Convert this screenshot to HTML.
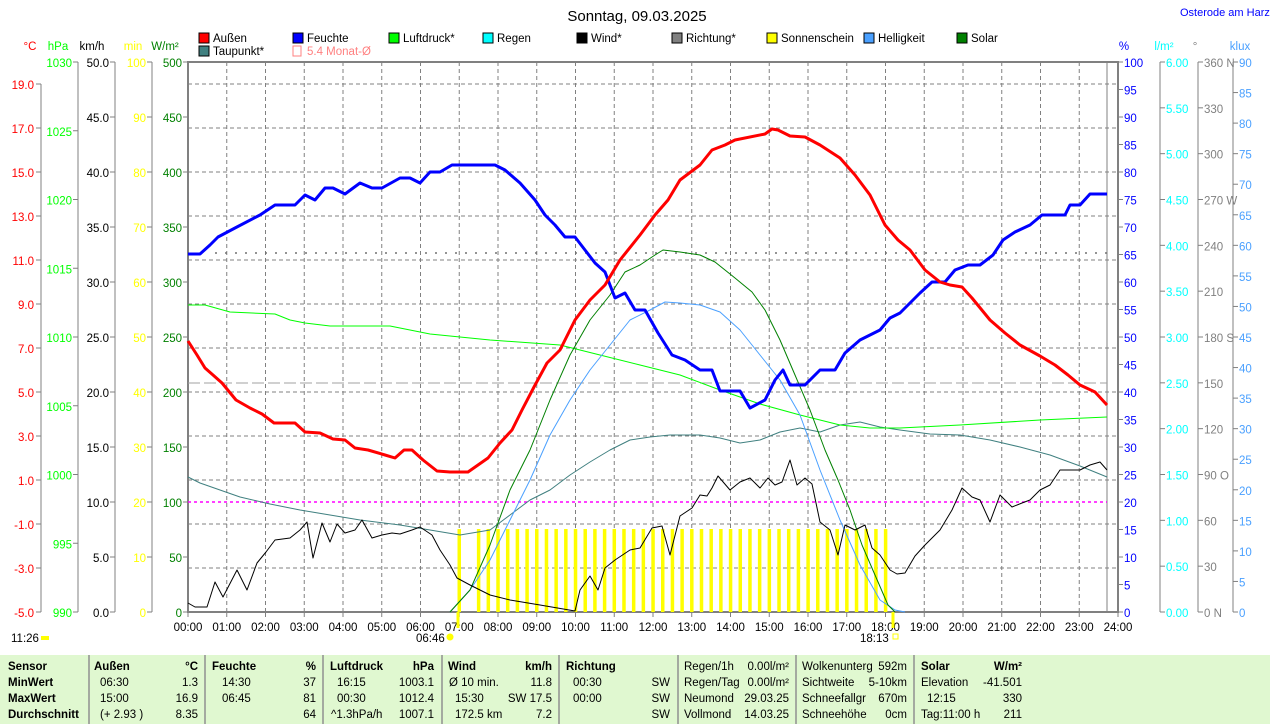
<!DOCTYPE html>
<html><head><meta charset="utf-8"><style>
body{margin:0;background:#fff;width:1274px;height:724px;overflow:hidden;font-family:"Liberation Sans",sans-serif}
svg{position:absolute;left:0;top:0}
text{font-family:"Liberation Sans",sans-serif;font-size:11.5px}
</style></head><body>
<svg id="s" width="1274" height="724" xmlns="http://www.w3.org/2000/svg"></svg>
<script>
const s=document.getElementById('s');let h='';
const X0=188,X1=1118,Y0=62,Y1=612,HW=38.75;
function t(x,y,str,c,a,extra){h+=`<text x="${x}" y="${y}" fill="${c||'#000'}" text-anchor="${a||'start'}" ${extra||''}>${str}</text>`;}
function l(x1,y1,x2,y2,c,w,d){h+=`<line x1="${x1}" y1="${y1}" x2="${x2}" y2="${y2}" stroke="${c}" stroke-width="${w||1}" ${d?`stroke-dasharray="${d}"`:''}/>`;}
function pl(p,c,w){h+=`<polyline fill="none" stroke="${c}" stroke-width="${w}" stroke-linejoin="round" points="${p}"/>`;}
t(637,21,'Sonntag, 09.03.2025','#000','middle','style="font-size:15px"');
t(1180,16,'Osterode am Harz','#0000ff','start','style="font-size:11px"');
const lg=[[199,'#ff0000','Außen'],[293,'#0000ff','Feuchte'],[389,'#00ff00','Luftdruck*'],[483,'#00ffff','Regen'],[577,'#000','Wind*'],[672,'#808080','Richtung*'],[767,'#ffff00','Sonnenschein'],[864,'#4aa0ff','Helligkeit'],[957,'#008000','Solar']];
lg.forEach(a=>{h+=`<rect x="${a[0]}" y="33" width="10" height="10" fill="${a[1]}" stroke="#000"/>`;t(a[0]+14,42,a[2]);});
h+=`<rect x="199" y="46" width="10" height="10" fill="#408080" stroke="#000"/>`;t(213,55,'Taupunkt*');
h+=`<rect x="293" y="46" width="8" height="10" fill="none" stroke="#ff8080"/>`;t(307,55,'5.4 Monat-Ø','#ff8080');
for(let i=0;i<=24;i++){let x=X0+i*HW;if(i>0&&i<24)l(x,Y0,x,Y1,'#808080',1,'4,3');l(x,Y1,x,Y1+5,'#808080');t(x,631,(i<10?'0':'')+i+':00','#000','middle');}
for(let y=84;y<Y1;y+=44)l(X0,y,X1,y,'#808080',1,'4,3');
h+=`<rect x="${X0}" y="${Y0}" width="${X1-X0}" height="${Y1-Y0}" fill="none" stroke="#808080" stroke-width="2"/>`;
l(1107,Y0,1107,Y1,'#808080',1);
function axis(x,vals,col){l(x,Y0,x,Y1,'#808080');vals.forEach(v=>{l(x-5,v[0],x,v[0],'#808080');t(x-6,v[0]+5,v[1],col,'end');});}
let a=[];for(let T=19;T>=-5;T-=2)a.push([612-(T+5)*22,T.toFixed(1)]);
a.forEach(v=>{l(36,v[0],41,v[0],'#808080');t(34,v[0]+5,v[1],'#ff0000','end');});l(41,84,41,Y1,'#808080');
a=[];for(let p=1030;p>=990;p-=5)a.push([612-(p-990)*13.75,p]);axis(78,a,'#00ff00');
a=[];for(let k=50;k>=0;k-=5)a.push([612-k*11,k.toFixed(1)]);axis(115,a,'#000');
a=[];for(let k=100;k>=0;k-=10)a.push([612-k*5.5,k]);axis(152,a,'#ffff00');
a=[];for(let k=500;k>=0;k-=50)a.push([612-k*1.1,k]);a.forEach(v=>{l(X0-5,v[0],X0,v[0],'#808080');t(X0-6,v[0]+5,v[1],'#008000','end');});
t(30,50,'°C','#ff0000','middle');t(58,50,'hPa','#00ff00','middle');t(92,50,'km/h','#000','middle');t(133,50,'min','#ffff00','middle');t(165,50,'W/m²','#008000','middle');
function raxis(x,vals,col){l(x,Y0,x,Y1,'#808080');vals.forEach(v=>{l(x,v[0],x+5,v[0],'#808080');t(x+6,v[0]+5,v[1],col);});}
a=[];for(let k=100;k>=0;k-=5)a.push([612-k*5.5,k]);a.forEach(v=>{l(X1,v[0],X1+5,v[0],'#808080');t(X1+6,v[0]+5,v[1],'#0000ff');});
a=[];for(let k=12;k>=0;k--)a.push([612-k*550/12,(k/2).toFixed(2)]);raxis(1160,a,'#00ffff');
const dn={360:' N',270:' W',180:' S',90:' O',0:' N'};
a=[];for(let k=360;k>=0;k-=30)a.push([612-k*550/360,k+(dn[k]||'')]);raxis(1198,a,'#808080');
a=[];for(let k=90;k>=0;k-=5)a.push([612-k*550/90,k]);raxis(1233,a,'#4aa0ff');
t(1124,50,'%','#0000ff','middle');t(1164,50,'l/m²','#00ffff','middle');t(1195,50,'°','#808080','middle');t(1240,50,'klux','#4aa0ff','middle');
l(X0,383,1107,383,'#a0a0a0',1,'12,4');
l(X0,502,1107,502,'#ff00ff',1.5,'3,3');
l(215,253,1107,253,'#707070',1.5,'2,8');
for(let i=0;i<=44;i++){if(i==1)continue;let x=459+i*9.69;if(x>890)break;h+=`<rect x="${x-1.5}" y="529" width="3.5" height="83" fill="#ffff00"/>`;}
l(458,612,458,628,'#ffff00',3);l(893,612,893,628,'#ffff00',3);
pl('188,477 200,483 220,490 240,497 270,504 300,510 330,515 360,520 400,525 430,530 460,535 490,530 510,515 530,500 550,490 570,475 590,462 610,450 630,440 650,437 670,435 700,435 720,438 740,443 760,440 780,432 800,428 820,432 840,425 860,422 880,427 900,430 930,434 960,435 990,440 1020,447 1050,455 1080,466 1107,477','#408080',1);
pl('188,305 205,305 230,312 275,314 290,320 305,323 330,326 390,326 410,330 430,334 490,340 560,345 600,355 640,365 680,375 720,390 760,404 800,415 840,425 870,428 900,428 960,425 1040,420 1107,417','#00ff00',1);
pl('450,612 470,590 490,560 510,520 530,480 550,435 570,400 590,370 610,345 630,320 650,310 665,302 680,303 700,305 720,312 740,330 760,355 780,380 800,415 820,470 840,520 860,565 880,600 895,610 905,612','#4aa0ff',1);
pl('450,612 470,590 490,545 510,490 530,450 550,400 570,355 590,320 610,295 625,272 640,265 655,255 663,250 680,252 700,255 715,262 735,278 752,292 765,310 780,340 795,375 810,410 825,450 838,480 850,510 862,545 875,575 888,605 895,612','#008000',1);
pl('188,603 195,607 207,607 215,582 223,597 237,570 247,590 257,563 266,552 275,540 290,538 300,530 307,522 313,558 322,523 330,542 337,524 345,533 355,530 362,520 372,538 382,535 392,533 400,534 412,530 420,527 432,535 440,550 450,565 457,578 470,585 490,595 510,600 540,605 575,611 580,590 590,576 598,590 605,568 615,560 630,550 640,548 652,528 662,526 670,555 680,516 692,508 700,495 707,496 712,488 718,476 730,490 740,482 750,478 760,488 768,478 775,485 782,482 790,460 797,485 805,478 812,484 820,522 830,530 838,555 845,525 855,530 865,525 872,548 880,555 890,570 897,574 905,573 915,556 925,545 940,530 952,510 962,488 972,497 980,500 990,522 1000,495 1012,507 1022,503 1030,500 1040,490 1050,485 1060,470 1068,470 1080,470 1090,465 1100,462 1107,470','#000',1);
pl('188,254 200,254 210,245 218,237 235,228 260,215 275,205 295,205 305,195 315,200 325,188 333,188 345,194 360,183 372,188 382,188 400,178 410,178 420,183 430,172 440,172 452,165 495,165 505,170 520,183 535,200 545,215 555,225 565,237 575,237 585,250 595,263 605,272 615,298 625,293 635,310 645,310 658,333 672,355 685,360 700,370 712,370 720,391 740,391 750,408 765,400 775,380 783,370 790,385 805,385 820,370 835,370 845,353 860,340 870,335 880,330 890,318 900,313 908,305 920,293 932,282 945,282 955,270 968,265 980,265 993,255 1003,240 1015,232 1030,225 1042,215 1055,215 1065,215 1070,205 1080,205 1090,194 1107,194','#0000ff',3);
pl('188,341 197,355 205,368 213,375 222,383 236,400 250,408 262,414 274,423 295,423 305,432 320,433 333,439 345,440 355,448 368,450 385,455 395,458 404,450 412,450 423,460 437,471 450,472 468,472 478,465 488,458 500,443 512,430 522,410 534,387 547,363 560,350 575,320 590,300 605,285 620,260 640,235 655,215 668,200 680,180 700,165 712,150 725,145 735,140 765,134 772,129 778,130 790,136 805,137 820,145 840,158 855,175 870,195 885,225 898,240 910,250 925,270 940,282 950,285 962,287 972,298 990,320 1005,333 1020,345 1040,356 1055,365 1068,375 1080,385 1095,392 1107,405','#ff0000',3);
t(11,642,'11:26');h+=`<rect x="41" y="636" width="8" height="4" fill="#ffff00"/>`;
t(416,642,'06:46');h+=`<circle cx="450" cy="637" r="3.5" fill="#ffff00"/>`;
t(860,642,'18:13');h+=`<rect x="893" y="634" width="5" height="5" fill="none" stroke="#ffff00"/>`;
h+=`<rect x="0" y="655" width="1270" height="69" fill="#e0f8d0"/>`;
[89,205,323,442,559,678,796,914].forEach(x=>l(x,655,x,724,'#909090',1.5));
const ry=[670,686,702,718];
const B='font-weight="bold"';
t(8,ry[0],'Sensor','#000','start',B);t(8,ry[1],'MinWert','#000','start',B);t(8,ry[2],'MaxWert','#000','start',B);t(8,ry[3],'Durchschnitt','#000','start',B);
t(94,ry[0],'Außen','#000','start',B);t(198,ry[0],'°C','#000','end',B);
t(212,ry[0],'Feuchte','#000','start',B);t(316,ry[0],'%','#000','end',B);
t(330,ry[0],'Luftdruck','#000','start',B);t(434,ry[0],'hPa','#000','end',B);
t(448,ry[0],'Wind','#000','start',B);t(552,ry[0],'km/h','#000','end',B);
t(566,ry[0],'Richtung','#000','start',B);
[['06:30','1.3'],['15:00','16.9'],['(+ 2.93 )','8.35']].forEach((r,i)=>{t(100,ry[i+1],r[0]);t(198,ry[i+1],r[1],'#000','end');});
[['14:30','37'],['06:45','81'],['','64']].forEach((r,i)=>{t(222,ry[i+1],r[0]);t(316,ry[i+1],r[1],'#000','end');});
[['16:15','1003.1'],['00:30','1012.4'],['^1.3hPa/h','1007.1']].forEach((r,i)=>{t(i==2?331:337,ry[i+1],r[0]);t(434,ry[i+1],r[1],'#000','end');});
[['Ø 10 min.','11.8'],['15:30','SW 17.5'],['172.5 km','7.2']].forEach((r,i)=>{t(i==0?449:455,ry[i+1],r[0]);t(552,ry[i+1],r[1],'#000','end');});
t(573,ry[1],'00:30');t(573,ry[2],'00:00');
t(670,ry[1],'SW','#000','end');t(670,ry[2],'SW','#000','end');t(670,ry[3],'SW','#000','end');
[['Regen/1h','0.00l/m²'],['Regen/Tag','0.00l/m²'],['Neumond','29.03.25'],['Vollmond','14.03.25']].forEach((r,i)=>{t(684,ry[i],r[0]);t(789,ry[i],r[1],'#000','end');});
[['Wolkenunterg','592m'],['Sichtweite','5-10km'],['Schneefallgr','670m'],['Schneehöhe','0cm']].forEach((r,i)=>{t(802,ry[i],r[0]);t(907,ry[i],r[1],'#000','end');});
t(921,ry[0],'Solar','#000','start',B);t(1022,ry[0],'W/m²','#000','end',B);
[['Elevation','-41.501'],['12:15','330'],['Tag:11:00 h','211']].forEach((r,i)=>{t(i==1?927:921,ry[i+1],r[0]);t(1022,ry[i+1],r[1],'#000','end');});
s.innerHTML=h;
</script>
</body></html>
